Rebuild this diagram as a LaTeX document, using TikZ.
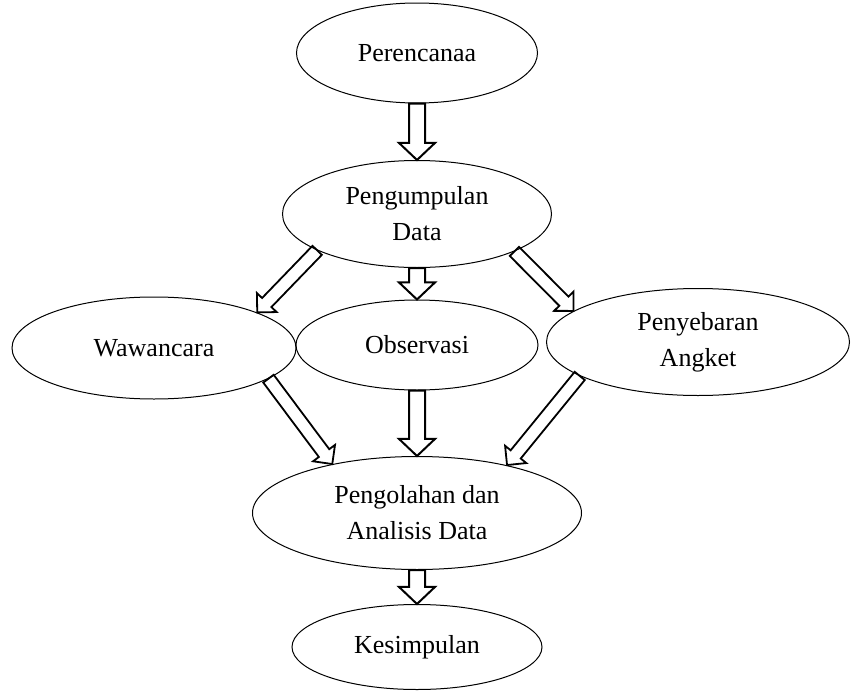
\documentclass[tikz,border=0pt]{standalone}
\usepackage{fontspec}
\setmainfont{Liberation Serif}
\usetikzlibrary{shapes.geometric,shapes.arrows,calc}

% block arrow from one border point to another
\newcommand{\panah}[3][panah]{%
  \path let \p1=($(#3)-(#2)$), \n1={veclen(\x1,\y1)} in
    (#2) -- node[#1, pos=0, anchor=tail, sloped, allow upside down, minimum height=\n1] {} (#3);}

\begin{document}
\begin{tikzpicture}[x=0.5pt, y=-0.5pt,
    font=\fontsize{13}{18}\selectfont,
    elips/.style={ellipse, draw, line width=0.5pt, inner sep=0pt, align=center},
    panah/.style={single arrow, draw, line width=1pt, inner xsep=0pt, inner ysep=3.5pt,
      outer sep=0pt, minimum width=0pt, single arrow head extend=5pt, single arrow tip angle=93},
    panahmiring/.style={panah, line width=0.9pt, inner ysep=2.8pt, single arrow head extend=3.6pt,
      single arrow tip angle=90}]
  \useasboundingbox (0,0) rectangle (852,696);

  \node[elips, minimum width=120.5pt, minimum height=50pt] (pe) at (417,53) {Perencanaa};
  \node[elips, minimum width=134.5pt, minimum height=53.5pt] (pd) at (417,214) {Pengumpulan\\Data};
  \node[elips, minimum width=142pt, minimum height=51pt] (ww) at (154,348) {Wawancara};
  \node[elips, minimum width=121pt, minimum height=45pt] (obs) at (417,345) {Observasi};
  \node[elips, minimum width=151.5pt, minimum height=53.5pt] (pa) at (698,342) {Penyebaran\\Angket};
  \node[elips, minimum width=164.5pt, minimum height=56.5pt] (olah) at (417,513) {Pengolahan dan\\Analisis Data};
  \node[elips, minimum width=125pt, minimum height=42.5pt] (ks) at (417,647) {Kesimpulan};

  \panah{pe.south}{pd.north}
  \panah[panahmiring]{pd.200}{ww.19}
  \panah{pd.south}{obs.north}
  \panah[panahmiring]{pd.339}{pa.166}
  \panah[panahmiring]{ww.345}{olah.150}
  \panah{obs.south}{olah.north}
  \panah[panahmiring]{pa.196}{olah.28}
  \panah{olah.south}{ks.north}
\end{tikzpicture}
\end{document}
